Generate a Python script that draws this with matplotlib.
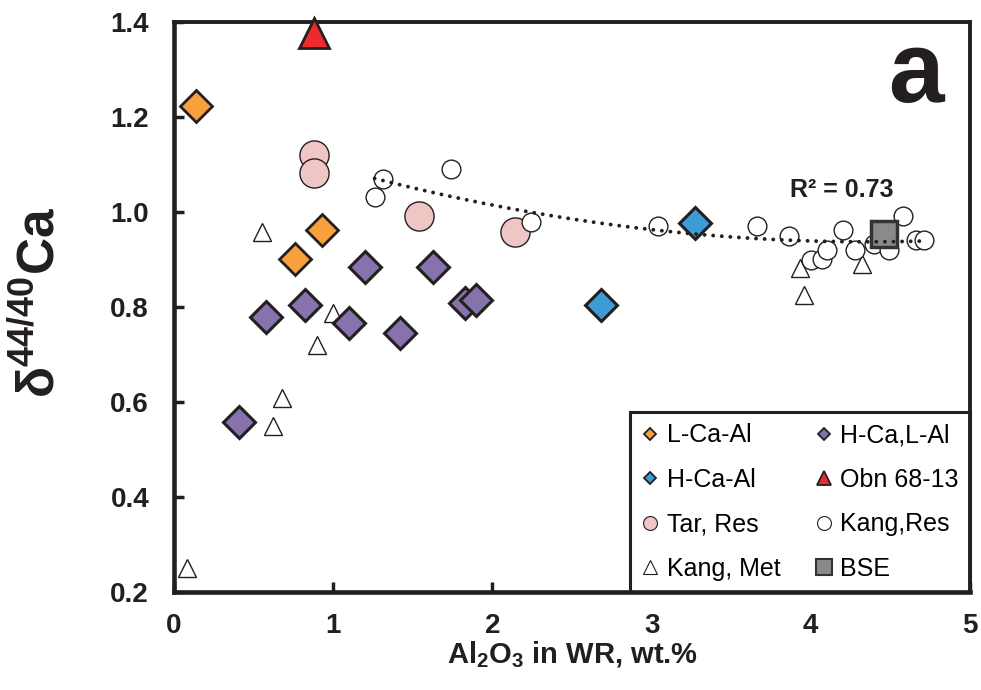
import numpy as np
import matplotlib
matplotlib.use('Agg')
import matplotlib.pyplot as plt
from matplotlib.lines import Line2D

plt.rcParams['font.family'] = ['Liberation Sans', 'DejaVu Sans']
plt.rcParams['mathtext.fontset'] = 'custom'
plt.rcParams['mathtext.rm'] = 'Liberation Sans'
plt.rcParams['mathtext.bf'] = 'Liberation Sans:bold'

# data (Al2O3 wt.%, d44/40Ca)
lcaal_x = [0.14, 0.76, 0.93]
lcaal_y = [1.224, 0.902, 0.963]

hca_lal_x = [0.58, 0.82, 1.20, 1.10, 1.63, 1.42, 1.83, 1.90, 0.41]
hca_lal_y = [0.779, 0.805, 0.884, 0.767, 0.884, 0.746, 0.809, 0.814, 0.558]

hcaal_x = [3.27, 2.68]
hcaal_y = [0.976, 0.805]

obn_x = [0.88]
obn_y = [1.376]

tar_x = [0.88, 0.88, 1.54, 2.14]
tar_y = [1.121, 1.082, 0.992, 0.957]

kang_res_x = [1.26, 1.31, 1.74, 2.24, 3.04, 3.66, 3.865, 4.0, 4.07, 4.1, 4.2,
              4.28, 4.4, 4.49, 4.58, 4.66, 4.71]
kang_res_y = [1.032, 1.070, 1.091, 0.980, 0.971, 0.971, 0.950, 0.900, 0.902, 0.920,
              0.962, 0.919, 0.932, 0.921, 0.991, 0.942, 0.942]

kang_met_x = [0.55, 1.0, 0.9, 0.68, 0.62, 0.08, 3.93, 3.96, 4.32]
kang_met_y = [0.957, 0.788, 0.719, 0.609, 0.550, 0.250, 0.882, 0.826, 0.890]

bse_x = [4.46]
bse_y = [0.953]

ec = '#231F20'
c_orange = '#F7A03C'
c_purple = '#8673AE'
c_blue = '#3D9BD6'
c_red = '#EE2A2E'
c_pink = '#EFC6C4'
c_gray = '#8A8A8A'

fig = plt.figure(figsize=(9.81, 6.9), dpi=100)
ax = fig.add_axes([174/981, 1-592/690, 796/981, 570/690])
ax.set_xlim(0, 5)
ax.set_ylim(0.2, 1.4)

ax.plot(kang_met_x, kang_met_y, '^', ms=13.5, mfc='white', mec=ec, mew=1, ls='none', zorder=3)
ax.plot(tar_x, tar_y, 'o', ms=21, mfc=c_pink, mec=ec, mew=1, ls='none', zorder=3)
ax.plot(kang_res_x, kang_res_y, 'o', ms=13.5, mfc='white', mec=ec, mew=1, ls='none', zorder=3)
ax.plot(hca_lal_x, hca_lal_y, 'D', ms=16.5, mfc=c_purple, mec=ec, mew=2.2, ls='none', zorder=3)
ax.plot(lcaal_x, lcaal_y, 'D', ms=15.8, mfc=c_orange, mec=ec, mew=2.0, ls='none', zorder=3)
ax.plot(hcaal_x, hcaal_y, 'D', ms=16.5, mfc=c_blue, mec=ec, mew=2.2, ls='none', zorder=3)
ax.plot(bse_x, bse_y, 's', ms=18.5, mfc=c_gray, mec='#333333', mew=2.5, ls='none', zorder=3)
ax.plot(obn_x, obn_y, '^', ms=22, mfc=c_red, mec=ec, mew=2, ls='none', zorder=4, clip_on=False)

# 2nd order trend through Kang, Res
coef = np.polyfit(kang_res_x, kang_res_y, 2)
xs = np.linspace(min(kang_res_x), max(kang_res_x), 200)
ax.plot(xs, np.polyval(coef, xs), color=ec, lw=2.8, ls=(0, (0.01, 2.2)),
        dash_capstyle='round', zorder=5)

ax.set_xticks([0, 1, 2, 3, 4, 5])
ax.set_yticks([0.2, 0.4, 0.6, 0.8, 1.0, 1.2, 1.4])
ax.set_xticklabels(['0', '1', '2', '3', '4', '5'])
ax.set_yticklabels(['0.2', '0.4', '0.6', '0.8', '1.0', '1.2', '1.4'])
ax.tick_params(axis='both', direction='in', length=7, width=2.5, color=ec,
               labelsize=20, labelcolor=ec)
ax.tick_params(axis='x', pad=15)
ax.tick_params(axis='y', pad=18)
for lab in ax.get_xticklabels() + ax.get_yticklabels():
    lab.set_fontweight('bold')

for side in ['left', 'bottom']:
    ax.spines[side].set_linewidth(3.3)
    ax.spines[side].set_color(ec)
for side in ['top', 'right']:
    ax.spines[side].set_linewidth(2.8)
    ax.spines[side].set_color(ec)

ax.set_xlabel(r'Al$_{\mathbf{2}}$O$_{\mathbf{3}}$ in WR, wt.%', fontsize=21,
              fontweight='bold', color=ec, labelpad=0.5)
fig.text(40/981, 1-302/690, r'δ$^{\mathbf{44/40}}$Ca', rotation=90, ha='center',
         va='center', fontsize=37, fontweight='bold', color=ec)

fig.text(916/981, 1-102/690, 'a', ha='center', va='baseline', fontsize=72,
         fontweight='bold', color=ec)
fig.text(790/981, 1-197/690, 'R² = 0.73', ha='left', va='baseline', fontsize=18,
         fontweight='bold', color=ec)

handles = [
    Line2D([], [], marker='D', ls='none', ms=6, mfc=c_orange, mec=ec, mew=1.3),
    Line2D([], [], marker='D', ls='none', ms=6, mfc=c_blue, mec=ec, mew=1.3),
    Line2D([], [], marker='o', ls='none', ms=10, mfc=c_pink, mec=ec, mew=0.8),
    Line2D([], [], marker='^', ls='none', ms=10, mfc='white', mec=ec, mew=0.8),
    Line2D([], [], marker='D', ls='none', ms=6, mfc=c_purple, mec=ec, mew=1.3),
    Line2D([], [], marker='^', ls='none', ms=10, mfc=c_red, mec=ec, mew=1.3),
    Line2D([], [], marker='o', ls='none', ms=10, mfc='white', mec=ec, mew=0.8),
    Line2D([], [], marker='s', ls='none', ms=11, mfc=c_gray, mec='#333333', mew=1.5),
]
labels = ['L-Ca-Al', 'H-Ca-Al', 'Tar, Res', 'Kang, Met',
          'H-Ca,L-Al', 'Obn 68-13', 'Kang,Res', 'BSE']
leg = ax.legend(handles, labels, ncol=2, loc='lower right', bbox_to_anchor=(1, 0),
                borderaxespad=0, fancybox=False, framealpha=1, edgecolor=ec,
                prop={'family': 'Liberation Sans', 'size': 18},
                handlelength=0.7, handletextpad=0.3, columnspacing=1.4,
                labelspacing=0.82, borderpad=0.45)
leg.get_frame().set_linewidth(2.2)
leg.set_zorder(2.2)

fig.savefig('out.png', dpi=100)
